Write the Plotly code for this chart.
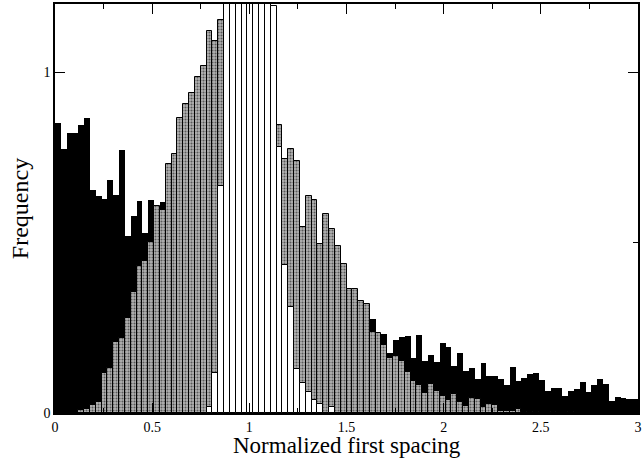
import numpy as np
import plotly.graph_objects as go

bin_width = 0.03
bin_centers = np.round(0.015 + bin_width * np.arange(100), 3)

# Black histogram (Poisson-like)
black_vals = [
    0.852, 0.776, 0.821, 0.821, 0.844, 0.865, 0.655, 0.637, 0.628, 0.684,
    0.640, 0.771, 0.520, 0.578, 0.621, 0.527, 0.625, 0.590, 0.618, 0.575,
    0.560, 0.585, 0.540, 0.530, 0.555, 0.510, 0.500, 0.520, 0.480, 0.470,
    0.490, 0.455, 0.445, 0.430, 0.450, 0.415, 0.405, 0.420, 0.390, 0.380,
    0.395, 0.365, 0.355, 0.370, 0.340, 0.335, 0.345, 0.320, 0.315, 0.325,
    0.300, 0.295, 0.305, 0.285, 0.275, 0.230, 0.231, 0.175, 0.213, 0.223,
    0.226, 0.162, 0.230, 0.153, 0.170, 0.150, 0.204, 0.194, 0.137, 0.175,
    0.124, 0.131, 0.101, 0.147, 0.108, 0.108, 0.101, 0.082, 0.134, 0.094,
    0.104, 0.114, 0.118, 0.096, 0.064, 0.074, 0.074, 0.051, 0.064, 0.069,
    0.092, 0.061, 0.081, 0.101, 0.084, 0.035, 0.047, 0.043, 0.041, 0.041,
]

# Gray (dotted) histogram (Wigner-like)
gray_vals = [
    0.0, 0.0, 0.0, 0.0, 0.009, 0.012, 0.024, 0.031, 0.118, 0.133,
    0.207, 0.221, 0.280, 0.355, 0.432, 0.447, 0.503, 0.608, 0.596, 0.730,
    0.761, 0.865, 0.907, 0.938, 0.986, 1.018, 1.122, 1.091, 1.154, 1.170,
    1.130, 1.150, 1.080, 1.050, 1.020, 0.970, 0.930, 0.890, 0.844, 0.745,
    0.774, 0.740, 0.547, 0.636, 0.625, 0.496, 0.584, 0.540, 0.490, 0.438,
    0.365, 0.365, 0.330, 0.321, 0.238, 0.236, 0.199, 0.160, 0.167, 0.152,
    0.121, 0.094, 0.081, 0.059, 0.085, 0.064, 0.051, 0.038, 0.055, 0.031,
    0.021, 0.043, 0.040, 0.018, 0.027, 0.023, 0.006, 0.005, 0.006, 0.012,
    0.004, 0.003, 0.003, 0.0, 0.0, 0.003, 0.0, 0.0, 0.003, 0.0,
    0.0, 0.0, 0.0, 0.0, 0.0, 0.0, 0.0, 0.0, 0.0, 0.0,
]

# White (outlined) histogram, narrow peak around 1
white_vals = [
    0.0, 0.0, 0.0, 0.0, 0.0, 0.0, 0.0, 0.0, 0.0, 0.0,
    0.0, 0.0, 0.0, 0.0, 0.0, 0.0, 0.0, 0.0, 0.0, 0.0,
    0.0, 0.0, 0.0, 0.0, 0.0, 0.0, 0.017, 0.118, 0.665, 1.450,
    2.050, 2.550, 2.850, 2.950, 2.750, 2.350, 1.800, 1.194, 0.779, 0.435,
    0.311, 0.129, 0.089, 0.062, 0.037, 0.025, 0.0, 0.018, 0.0, 0.0,
    0.0, 0.0, 0.0, 0.0, 0.0, 0.0, 0.0, 0.0, 0.0, 0.0,
    0.0, 0.0, 0.0, 0.0, 0.0, 0.0, 0.0, 0.0, 0.0, 0.0,
    0.0, 0.0, 0.0, 0.0, 0.0, 0.0, 0.0, 0.0, 0.0, 0.0,
    0.0, 0.0, 0.0, 0.0, 0.0, 0.0, 0.0, 0.0, 0.0, 0.0,
    0.0, 0.0, 0.0, 0.0, 0.0, 0.0, 0.0, 0.0, 0.0, 0.0,
]

x_tick_vals = [0, 0.5, 1, 1.5, 2, 2.5, 3]
x_tick_text = ["0", "0.5", "1", "1.5", "2", "2.5", "3"]
y_tick_vals = [0, 1]
y_tick_text = ["0", "1"]

FONT = "Liberation Serif"

fig = go.Figure()
fig.add_trace(go.Bar(
    x=bin_centers, y=black_vals, width=bin_width,
    marker=dict(color="black", line=dict(color="black", width=0)),
    showlegend=False, hoverinfo="skip",
))
fig.add_trace(go.Bar(
    x=bin_centers, y=gray_vals, width=bin_width,
    marker=dict(
        color="#a8a8a8",
        line=dict(color="black", width=1),
        pattern=dict(shape=".", fgcolor="black", bgcolor="#b4b4b4",
                     size=3, solidity=0.4),
    ),
    showlegend=False, hoverinfo="skip",
))
fig.add_trace(go.Bar(
    x=bin_centers, y=white_vals, width=bin_width,
    marker=dict(color="white", line=dict(color="black", width=1)),
    showlegend=False, hoverinfo="skip",
))

axis_common = dict(
    showline=True, linecolor="black", linewidth=1.5, mirror="allticks",
    ticks="inside", ticklen=10, tickwidth=1, tickcolor="black",
    showgrid=False, zeroline=False,
    tickfont=dict(family=FONT, size=14, color="black"),
)

fig.update_layout(
    width=644, height=461,
    margin=dict(l=55, r=2, t=2, b=48),
    paper_bgcolor="white", plot_bgcolor="white",
    barmode="overlay", bargap=0,
    font=dict(family=FONT, color="black"),
    xaxis=dict(
        range=[0, 3], tickmode="array", tickvals=x_tick_vals, ticktext=x_tick_text,
        minor=dict(dtick=0.25, tick0=0, ticks="inside", ticklen=5, tickcolor="black"),
        **axis_common,
    ),
    yaxis=dict(
        range=[0, 1.2], tickmode="array", tickvals=y_tick_vals, ticktext=y_tick_text,
        minor=dict(dtick=0.5, tick0=0, ticks="inside", ticklen=5, tickcolor="black"),
        title=dict(text="Frequency", font=dict(family=FONT, size=24), standoff=8),
        **axis_common,
    ),
    annotations=[dict(
        text="Normalized first spacing", xref="paper", yref="paper",
        x=0.5, y=-0.0803, xanchor="center", yanchor="middle", showarrow=False,
        font=dict(family=FONT, size=23, color="black"),
    )],
)

fig.write_html("out.html")
